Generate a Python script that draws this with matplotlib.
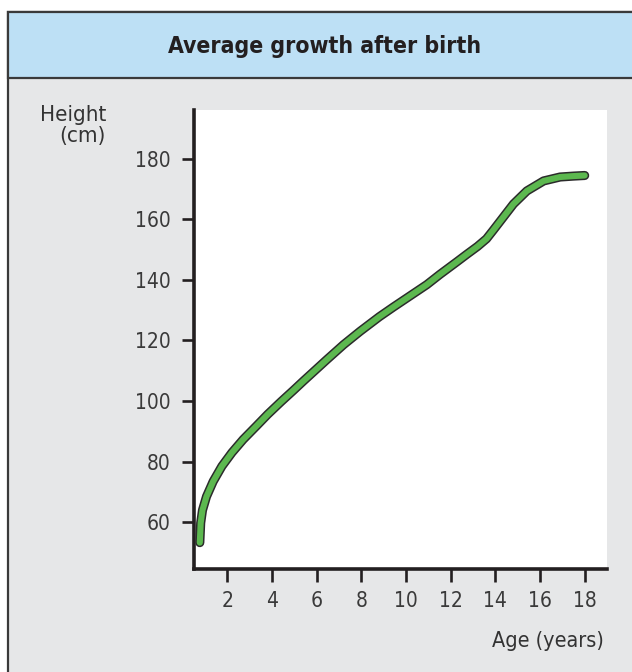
import matplotlib
matplotlib.use('Agg')
import matplotlib.pyplot as plt
import matplotlib.patheffects as pe
from matplotlib.patches import Rectangle

# values
ages = [0.76, 0.8, 0.88, 1.06, 1.36, 1.75, 2.2, 2.7, 3.3, 3.8, 4.4, 4.95, 5.4,
        6.44, 7.2, 7.94, 8.8, 9.43, 10.2, 10.93, 11.52, 12.27, 12.72, 13.2, 13.6,
        13.91, 14.36, 14.81, 15.41, 16.16, 16.9, 17.5, 18.0]
heights = [53.3, 59.8, 64.0, 68.5, 73.5, 78.5, 83.0, 87.3, 91.8, 95.6, 99.8, 103.5, 106.6,
           113.6, 118.6, 123.0, 127.8, 131.0, 134.8, 138.4, 141.8, 145.9, 148.4, 151.0, 153.5,
           156.4, 160.7, 165.0, 169.3, 172.6, 173.9, 174.2, 174.4]
x_ticks = [2, 4, 6, 8, 10, 12, 14, 16, 18]
y_ticks = [60, 80, 100, 120, 140, 160, 180]

title = 'Average growth after birth'
y_label = 'Height\n(cm)'
x_label = 'Age (years)'

plt.rcParams['font.family'] = ['DejaVu Sans']
plt.rcParams['font.stretch'] = 'condensed'

W, H = 632, 672
fig = plt.figure(figsize=(W / 100, H / 100), dpi=100)
fig.patch.set_facecolor('white')


def px(x, y):
    # pixel coords (top-left origin) -> figure fraction
    return x / W, 1 - y / H


# background panel and header band
x0, y0 = px(8, 12)
x1, y1 = px(640, 680)
fig.patches.append(Rectangle((x0, y1), x1 - x0, y0 - y1, transform=fig.transFigure,
                             facecolor='#e6e7e8', edgecolor='#3a3a3a', lw=1.6, zorder=0))
hx, hy = px(8, 78)
fig.patches.append(Rectangle((hx, hy), x1 - hx, y0 - hy, transform=fig.transFigure,
                             facecolor='#bde0f5', edgecolor='#3a3a3a', lw=1.6, zorder=1))

tx, ty = px(325, 46)
fig.text(tx, ty, title, ha='center', va='center', fontsize=16.5, fontweight='bold',
         color='#231f20')

# axes
l, t = px(194, 110)
r, b = px(607, 569)
ax = fig.add_axes([l, b, r - l, t - b], zorder=5)
ax.set_facecolor('white')
ax.set_xlim(0.5, 19.0)
ax.set_ylim(44.6, 196)

for side in ['top', 'right']:
    ax.spines[side].set_visible(False)
for side in ['left', 'bottom']:
    ax.spines[side].set_linewidth(2.6)
    ax.spines[side].set_color('#231f20')
    ax.spines[side].set_capstyle('projecting')

ax.set_xticks(x_ticks)
ax.set_yticks(y_ticks)
ax.tick_params(axis='both', direction='out', length=9, width=1.9, color='#231f20',
               labelsize=15, labelcolor='#3a3a3a')
ax.tick_params(axis='x', pad=7)
ax.tick_params(axis='y', pad=8)

ax.plot(ages, heights, color='#5cb84f', lw=4.4, solid_capstyle='round',
        solid_joinstyle='round',
        path_effects=[pe.Stroke(linewidth=6.6, foreground='#2b2b2b', capstyle='round',
                                joinstyle='round'),
                      pe.Normal()], zorder=3)

lx, ly = px(106, 105)
fig.text(lx, ly, y_label, ha='right', va='top', fontsize=16, color='#333333',
         linespacing=1.05)
ax_x, ax_y = px(604, 641)
fig.text(ax_x, ax_y, x_label, ha='right', va='center', fontsize=15.5, color='#333333')

fig.savefig('out.png', dpi=100)
